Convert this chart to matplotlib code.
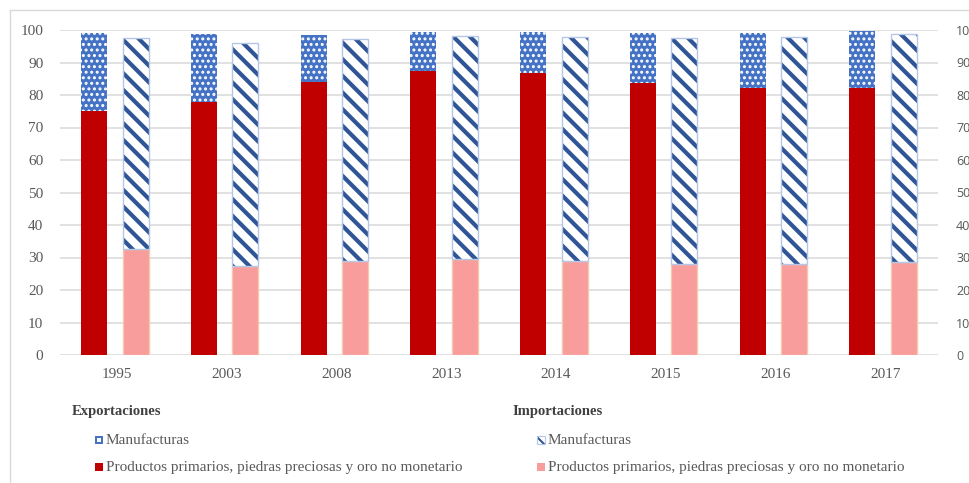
import matplotlib.pyplot as plt
import matplotlib.patches as mpatches
import matplotlib.lines as mlines
import numpy as np

years = ['1995', '2003', '2008', '2013', '2014', '2015', '2016', '2017']
exp_prim = [75.2, 77.9, 84.1, 87.5, 86.9, 83.8, 82.3, 82.3]
exp_manuf = [24.0, 20.9, 14.4, 12.0, 12.6, 15.4, 16.9, 17.4]
imp_prim = [32.5, 27.5, 29.0, 29.4, 29.0, 27.9, 27.9, 28.6]
imp_manuf = [64.9, 68.4, 68.1, 68.8, 68.8, 69.5, 70.0, 70.3]
yticks = list(range(0, 101, 10))

red = '#C00000'
pink = '#F89C9C'
blue = '#4472C4'
navy = '#2F5597'
txt = '#595959'
serif = 'Liberation Serif'

W, H = 970, 483
fig = plt.figure(figsize=(W / 100, H / 100), dpi=100)
ax = fig.add_axes([60 / W, 1 - 355 / H, 878 / W, 325 / H])

x = np.arange(len(years))
off = 0.19
bw = 0.237

# exportaciones
ax.bar(x - off, exp_prim, bw, color=red, linewidth=0, zorder=3)
with plt.rc_context({'hatch.linewidth': 1.4}):
    ax.bar(x - off, exp_manuf, bw, bottom=exp_prim, color=blue, edgecolor='white',
           hatch='...', linewidth=0, zorder=3)

# importaciones
ax.bar(x + off, imp_prim, bw, color=pink, edgecolor='#F4C9B0', linewidth=1.0, zorder=3)
with plt.rc_context({'hatch.linewidth': 3.0}):
    ax.bar(x + off, imp_manuf, bw, bottom=imp_prim, color='white', edgecolor=navy,
           hatch='\\\\', linewidth=0, zorder=3)
ax.bar(x + off, imp_manuf, bw, bottom=imp_prim, fill=False, edgecolor='#B4C7E7',
       linewidth=1.0, zorder=4)

ax.set_xlim(-0.5, len(years) - 0.5)
ax.set_ylim(0, 100)
ax.set_yticks(yticks)
ax.set_yticklabels([str(v) for v in yticks], fontfamily=serif, fontsize=11, color=txt)
ax.set_xticks(x + 0.02)
ax.set_xticklabels(years, fontfamily=serif, fontsize=11, color=txt)
ax.tick_params(axis='x', length=0, pad=9)
ax.tick_params(axis='y', length=0, pad=12)
ax.grid(axis='y', color='#D9D9D9', linewidth=1.1, zorder=0)
for s in ax.spines.values():
    s.set_visible(False)

ax2 = ax.twinx()
ax2.set_ylim(0, 100)
ax2.set_yticks(yticks)
ax2.set_yticklabels([str(v) for v in yticks], fontfamily='Open Sans',
                    fontsize=9, color=txt)
ax2.tick_params(axis='y', length=0, pad=13)
for s in ax2.spines.values():
    s.set_visible(False)

# outer frame
fig.add_artist(mlines.Line2D([10 / W, 10 / W], [0, 1 - 10 / H], color='#D9D9D9',
                             linewidth=1, transform=fig.transFigure))
fig.add_artist(mlines.Line2D([10 / W, 1], [1 - 10 / H, 1 - 10 / H], color='#D9D9D9',
                             linewidth=1, transform=fig.transFigure))

# legend
def fy(py):
    return 1 - py / H

fig.text(72 / W, fy(411), 'Exportaciones', fontfamily=serif, fontsize=10.5,
         fontweight='bold', color='#404040', va='center')
fig.text(512 / W, fy(411), 'Importaciones', fontfamily=serif, fontsize=10.5,
         fontweight='bold', color='#404040', va='center')

def square(px, py, **style):
    fig.add_artist(mpatches.Rectangle((px / W, fy(py + 4)), 8 / W, 8 / H,
                                      transform=fig.transFigure, **style))

label_m = 'Manufacturas'
label_p = 'Productos primarios, piedras preciosas y oro no monetario'

square(95, 440, facecolor=blue, linewidth=0)
fig.add_artist(mpatches.Rectangle((97 / W, fy(442)), 4 / W, 4 / H, facecolor='white',
                                  linewidth=0, transform=fig.transFigure))
square(95, 467, facecolor=red, linewidth=0)
with plt.rc_context({'hatch.linewidth': 1.5}):
    square(537, 440, facecolor='white', edgecolor=navy, hatch='\\\\', linewidth=0)
square(537, 440, fill=False, edgecolor='#B4C7E7', linewidth=0.8)
square(537, 467, facecolor=pink, linewidth=0)

for px, py, label in [(95, 440, label_m), (95, 467, label_p),
                      (537, 440, label_m), (537, 467, label_p)]:
    fig.text((px + 11) / W, fy(py), label, fontfamily=serif, fontsize=11,
             color=txt, va='center')

fig.savefig('out.png', dpi=100)
